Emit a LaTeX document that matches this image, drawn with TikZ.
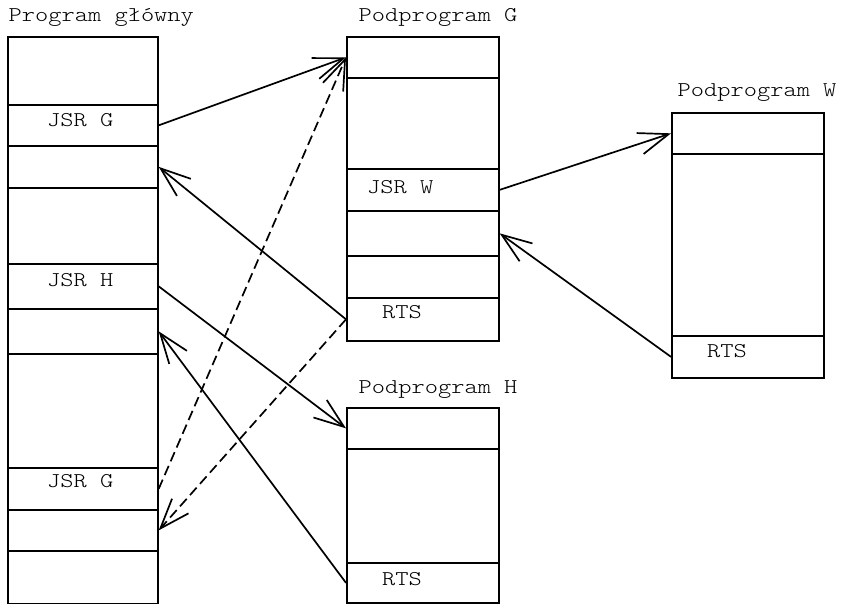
\documentclass[tikz,border=0pt]{standalone}
\usepackage{fontspec}
\newfontfamily\cour{lmmonolt10-regular}[Extension=.otf, FakeStretch=1.2]
\usetikzlibrary{arrows.meta}
\begin{document}
\begin{tikzpicture}[x=1pt,y=-1pt,
  cell/.style={draw, line width=1.7pt, inner sep=0pt, anchor=north west},
  txt/.style={anchor=base west, inner sep=0pt, font=\cour\fontsize{21}{26}\selectfont},
  call/.style={line width=1.7pt, -{Straight Barb[length=30pt, width=22pt, line width=1.7pt]}},
  back/.style={call, dash pattern=on 10pt off 5pt}]
\useasboundingbox (0,0) rectangle (843,604);

% main program column
\foreach \n/\t/\b in {m1/36/104, m2/104/145, m3/145/187, m4/187/263, m5/263/308,
                      m6/308/353, m7/353/467, m8/467/509, m9/509/550, m10/550/603}
  \node[cell, minimum width=150, minimum height=\b-\t] (\n) at (7,\t) {};

% subroutine G
\foreach \n/\t/\b in {g1/36/77, g2/77/168, g3/168/210, g4/210/255, g5/255/297, g6/297/340}
  \node[cell, minimum width=152, minimum height=\b-\t] (\n) at (346,\t) {};

% subroutine W
\foreach \n/\t/\b in {w1/112/153, w2/153/335, w3/335/377}
  \node[cell, minimum width=152, minimum height=\b-\t] (\n) at (671,\t) {};

% subroutine H
\foreach \n/\t/\b in {h1/407/448, h2/448/562, h3/562/602}
  \node[cell, minimum width=152, minimum height=\b-\t] (\n) at (346,\t) {};

% titles
\node[txt] (tm) at (8.5,22) {Program główny};
\node[txt] (tg) at (358.5,22) {Podprogram G};
\node[txt] (tw) at (677.5,97) {Podprogram W};
\node[txt] (th) at (358.5,393) {Podprogram H};

% cell texts
\node[txt] (j1) at (47,127) {JSR G};
\node[txt] (j2) at (47,286) {JSR H};
\node[txt] (j3) at (47,487) {JSR G};
\node[txt] (jw) at (367,194) {JSR W};
\node[txt] (rg) at (382,318) {RTS};
\node[txt] (rw) at (707,357) {RTS};
\node[txt] (rh) at (382,585) {RTS};

% calls and returns
\draw[call] (m2.east) -- (g1.west);
\draw[call] (g6.west) -- (m3.east);
\draw[call] (m5.east) -- (h1.west);
\draw[call] (h3.west) -- (m6.east);
\draw[back] (m8.east) -- (g1.west);
\draw[back] (g6.west) -- (m9.east);
\draw[call] (g3.east) -- (w1.west);
\draw[call] (w3.west) -- (g4.east);
\end{tikzpicture}
\end{document}
